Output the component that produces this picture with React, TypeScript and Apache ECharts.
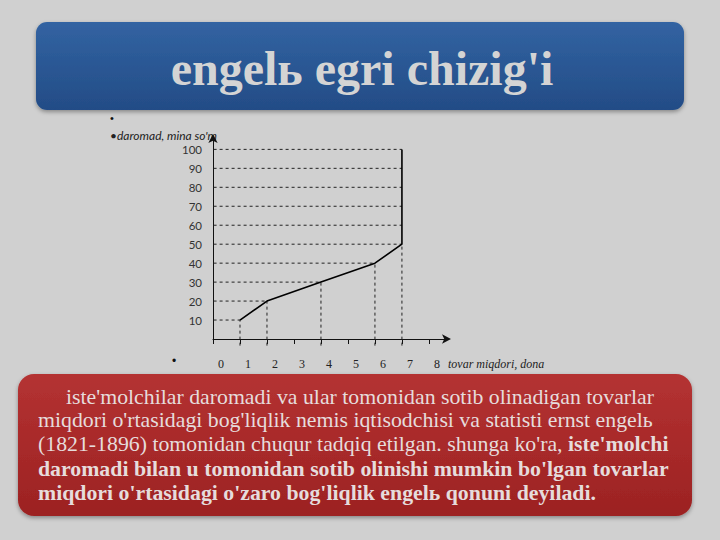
import React, { useEffect, useRef } from "react";
import * as echarts from "echarts";

const title = "engelь egri chizig'i";
const yAxisName = "•daromad, mina so'm";
const xAxisName = "tovar miqdori, dona";
const xTickLabels = ["0", "1", "2", "3", "4", "5", "6", "7", "8"];
const yTickValues = [10, 20, 30, 40, 50, 60, 70, 80, 90, 100];
// Engel curve points: goods quantity vs income
const quantity = [1, 2, 4, 6, 7, 7];
const income = [10, 20, 30, 40, 50, 100];

const paraPlain1 = "iste'molchilar daromadi va ular tomonidan sotib olinadigan tovarlar";
const paraPlain2 = "miqdori o'rtasidagi bog'liqlik nemis iqtisodchisi va statisti ernst engelь";
const paraPlain3 = "(1821-1896) tomonidan chuqur tadqiq etilgan. shunga ko'ra, ";
const paraBold3 = "iste'molchi";
const paraBold4 = "daromadi bilan u tomonidan sotib olinishi mumkin bo'lgan tovarlar";
const paraBold5 = "miqdori o'rtasidagi o'zaro bog'liqlik engelь qonuni deyiladi.";

// x value of curve for a given income level (from the data points)
function qtyAt(level: number): number {
  for (let i = 0; i < income.length - 1; i++) {
    if (level >= income[i] && level <= income[i + 1]) {
      const t = (level - income[i]) / (income[i + 1] - income[i]);
      return quantity[i] + t * (quantity[i + 1] - quantity[i]);
    }
  }
  return quantity[quantity.length - 1];
}

export default function App() {
  const ref = useRef<HTMLDivElement>(null);
  useEffect(() => {
    document.body.style.margin = "0";
    const chart = echarts.init(ref.current!, null, { renderer: "svg" });
    const dash = { color: "#222", width: 1, type: [3, 3] as any };
    const guideSeries: any[] = [];
    yTickValues.forEach((lv) => {
      guideSeries.push({
        type: "line",
        data: [[-0.2, lv], [qtyAt(lv), lv]],
        symbol: "none",
        clip: false,
        lineStyle: dash,
        silent: true,
      });
    });
    quantity.slice(0, 5).forEach((q, i) => {
      guideSeries.push({
        type: "line",
        data: [[q, -3.5], [q, income[i]]],
        symbol: "none",
        clip: false,
        lineStyle: dash,
        silent: true,
      });
    });
    const serif = "'Liberation Serif', 'DejaVu Serif', serif";
    const textColor = "#e6dcdc";
    const paraX = 38;
    const fs = 21.8;
    chart.setOption({
      animation: false,
      backgroundColor: "#d0d0d0",
      grid: { left: 213, top: 138, width: 234, height: 201, containLabel: false },
      xAxis: {
        type: "value",
        min: 0,
        max: 8.67,
        interval: 1,
        splitLine: { show: false },
        axisLine: {
          onZero: false,
          symbol: ["none", "arrow"],
          symbolSize: [7, 9],
          symbolOffset: [0, 4],
          lineStyle: { color: "#111", width: 1 },
        },
        axisTick: { show: true, length: 5, lineStyle: { color: "#111" } },
        axisLabel: {
          margin: 19,
          fontFamily: serif,
          fontSize: 12,
          color: "#222",
          padding: [0, 0, 0, 16],
          showMaxLabel: false,
          formatter: (v: number) => (Number.isInteger(v) && xTickLabels[v] !== undefined ? xTickLabels[v] : ""),
        },
      },
      yAxis: {
        type: "value",
        min: 0,
        max: 106,
        interval: 10,
        splitLine: { show: false },
        axisLine: {
          onZero: false,
          symbol: ["none", "arrow"],
          symbolSize: [7, 9],
          symbolOffset: [0, 4],
          lineStyle: { color: "#111", width: 1 },
        },
        axisTick: { show: false },
        axisLabel: {
          margin: 11,
          fontFamily: "Lato, 'Open Sans', sans-serif",
          fontSize: 11.5,
          color: "#333",
          showMinLabel: false,
          showMaxLabel: false,
          formatter: (v: number) => (yTickValues.includes(v) ? String(v) : ""),
        },
      },
      graphic: [
        {
          type: "rect",
          shape: { x: 36, y: 22, width: 648, height: 88, r: 11 },
          style: {
            fill: new echarts.graphic.LinearGradient(0, 0, 0, 1, [
              { offset: 0, color: "#3263a2" },
              { offset: 1, color: "#234c86" },
            ]),
            shadowBlur: 4,
            shadowOffsetY: 2,
            shadowColor: "rgba(0,0,0,0.35)",
          },
          z: 1,
        },
        {
          type: "text",
          x: 362,
          y: 68,
          style: {
            text: title,
            fontFamily: serif,
            fontWeight: "bold",
            fontSize: 48,
            fill: "#d4d4d4",
            align: "center",
            verticalAlign: "middle",
          },
          z: 2,
        },
        {
          type: "text",
          x: 110,
          y: 118,
          style: { text: "•", fontSize: 11, fill: "#111", verticalAlign: "middle" },
        },
        {
          type: "text",
          x: 110,
          y: 135,
          style: {
            text: yAxisName,
            fontFamily: "Lato, 'Open Sans', sans-serif",
            fontStyle: "italic",
            fontSize: 12,
            fill: "#222",
            verticalAlign: "middle",
          },
        },
        {
          type: "text",
          x: 172,
          y: 361,
          style: { text: "•", fontSize: 12, fill: "#111", verticalAlign: "middle" },
        },
        {
          type: "text",
          x: 448,
          y: 364,
          style: {
            text: xAxisName,
            fontFamily: serif,
            fontStyle: "italic",
            fontSize: 12,
            fill: "#222",
            verticalAlign: "middle",
          },
        },
        {
          type: "rect",
          shape: { x: 18, y: 374, width: 674, height: 142, r: 16 },
          style: {
            fill: new echarts.graphic.LinearGradient(0, 0, 0, 1, [
              { offset: 0, color: "#b43232" },
              { offset: 1, color: "#9c2222" },
            ]),
            shadowBlur: 4,
            shadowOffsetY: 2,
            shadowColor: "rgba(0,0,0,0.35)",
          },
          z: 1,
        },
        {
          type: "text",
          x: 66,
          y: 397,
          style: { text: paraPlain1, fontFamily: serif, fontSize: fs, fill: textColor, verticalAlign: "middle" },
          z: 2,
        },
        {
          type: "text",
          x: paraX,
          y: 420,
          style: { text: paraPlain2, fontFamily: serif, fontSize: fs, fill: textColor, verticalAlign: "middle" },
          z: 2,
        },
        {
          type: "text",
          x: paraX,
          y: 444,
          style: {
            text: "{n|" + paraPlain3 + "}{b|" + paraBold3 + "}",
            verticalAlign: "middle",
            rich: {
              n: { fontFamily: serif, fontSize: fs, fill: textColor, color: textColor },
              b: { fontFamily: serif, fontSize: fs, fontWeight: "bold", fill: textColor, color: textColor },
            },
          },
          z: 2,
        },
        {
          type: "text",
          x: paraX,
          y: 469,
          style: { text: paraBold4, fontFamily: serif, fontSize: fs, fontWeight: "bold", fill: textColor, verticalAlign: "middle" },
          z: 2,
        },
        {
          type: "text",
          x: paraX,
          y: 493,
          style: { text: paraBold5, fontFamily: serif, fontSize: fs, fontWeight: "bold", fill: textColor, verticalAlign: "middle" },
          z: 2,
        },
      ],
      series: [
        ...guideSeries,
        {
          type: "line",
          data: quantity.map((q, i) => [q, income[i]]),
          symbol: "none",
          clip: false,
          lineStyle: { color: "#000", width: 1.6 },
          z: 5,
        },
      ],
    });
    return () => chart.dispose();
  }, []);
  return <div ref={ref} style={{ position: "fixed", left: 0, top: 0, width: 720, height: 540 }} />;
}
